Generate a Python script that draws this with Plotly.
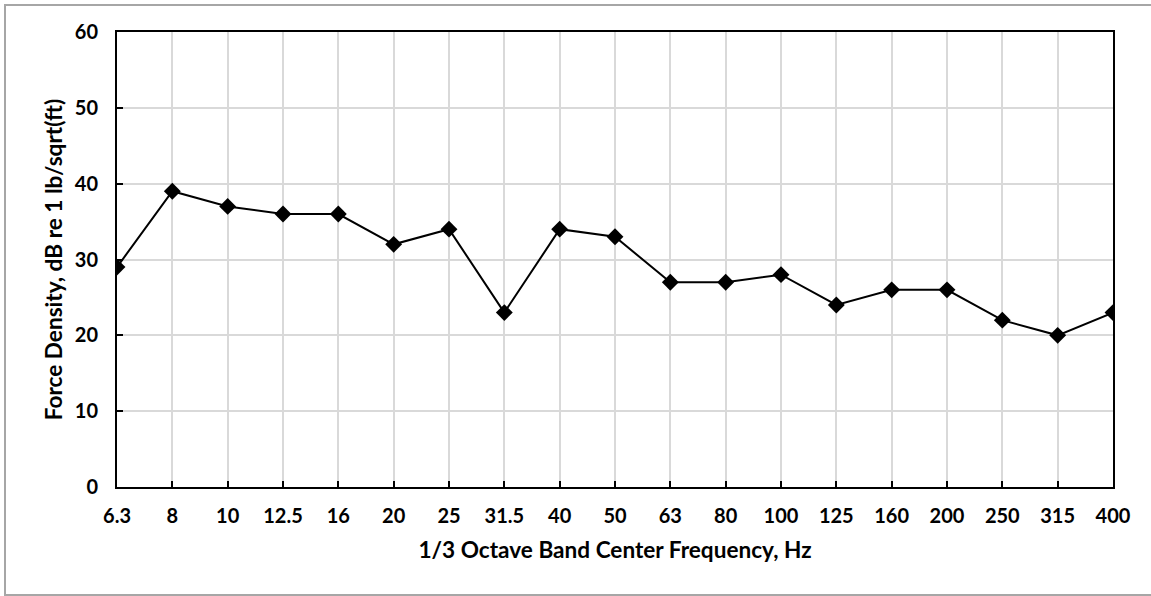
import plotly.graph_objects as go

freqs = ["6.3", "8", "10", "12.5", "16", "20", "25", "31.5", "40", "50",
         "63", "80", "100", "125", "160", "200", "250", "315", "400"]
force_db = [29, 39, 37, 36, 36, 32, 34, 23, 34, 33,
            27, 27, 28, 24, 26, 26, 22, 20, 23]
y_ticks = [0, 10, 20, 30, 40, 50, 60]

FONT = "Lato"
TICK_SIZE = 20
TITLE_SIZE = 22.6

fig = go.Figure()
fig.add_trace(go.Scatter(
    x=list(range(len(freqs))), y=force_db, mode="lines+markers",
    line=dict(color="black", width=2),
    marker=dict(symbol="diamond", size=13, color="black"),
    showlegend=False,
))

W, H = 1151, 596
L, R, T, B = 117, 38, 32, 109
pw, ph = W - L - R, H - T - B

fig.update_layout(
    width=W, height=H,
    margin=dict(l=L, r=R, t=T, b=B),
    paper_bgcolor="white", plot_bgcolor="white",
    font=dict(family=FONT, size=TICK_SIZE, color="black"),
    xaxis=dict(
        range=[0, len(freqs) - 1],
        tickmode="array", tickvals=list(range(len(freqs))), ticktext=freqs,
        showgrid=True, gridcolor="#d9d9d9", gridwidth=2,
        showline=True, linecolor="black", linewidth=2, mirror=True,
        ticks="inside", ticklen=6, tickcolor="black", tickwidth=2,
        tickfont=dict(family=FONT, size=TICK_SIZE, weight="bold"),
        ticklabelstandoff=10,
        title=dict(text="1/3 Octave Band Center Frequency, Hz",
                   font=dict(family=FONT, size=TITLE_SIZE, weight="bold"), standoff=16),
        zeroline=False,
    ),
    yaxis=dict(
        range=[0, 60], tickmode="array", tickvals=y_ticks,
        showgrid=True, gridcolor="#d9d9d9", gridwidth=2,
        showline=True, linecolor="black", linewidth=2, mirror=True,
        ticks="inside", ticklen=6, tickcolor="black", tickwidth=2,
        tickfont=dict(family=FONT, size=TICK_SIZE, weight="bold"),
        ticklabelstandoff=13,
        title=dict(text="Force Density, dB re 1 lb/sqrt(ft)",
                   font=dict(family=FONT, size=TITLE_SIZE, weight="bold"), standoff=6),
        zeroline=False,
    ),
)

# outer chart-area frame
fig.add_shape(type="rect", xref="paper", yref="paper",
              x0=(5 - L) / pw, x1=(1153 - L) / pw,
              y0=(H - B - 595) / ph, y1=(H - B - 5) / ph,
              line=dict(color="#a6a6a6", width=2), layer="below")

fig.write_html("out.html")
